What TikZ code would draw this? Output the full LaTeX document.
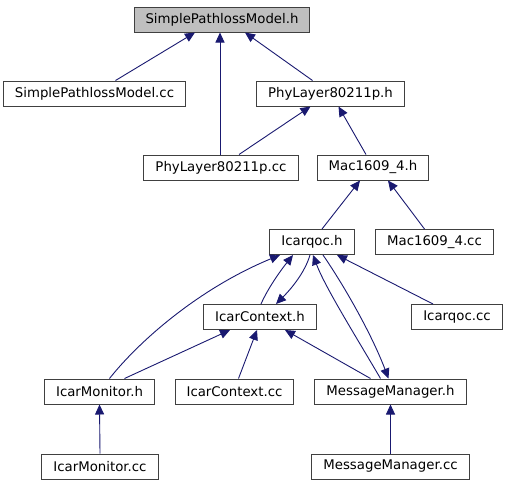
\documentclass[tikz,border=0pt]{standalone}
\usepackage{fontspec}
\setmainfont{DejaVu Sans}
\usepackage{tikz}
\usetikzlibrary{arrows.meta, positioning}
\definecolor{edgeblue}{HTML}{191970}
\definecolor{rootgray}{HTML}{BFBFBF}

\begin{document}
\begin{tikzpicture}[x=1pt, y=-1pt,
    box/.style={draw=black!75, fill=white, line width=1pt, minimum height=25pt,
        inner xsep=11.5pt, inner ysep=0pt, font=\fontsize{13.3}{16}\selectfont},
    rootbox/.style={box, fill=rootgray},
    dep/.style={edgeblue, line width=0.9pt, -{Triangle[length=10pt, width=9pt]}}]
        \useasboundingbox (0, 0) rectangle (506, 485);

        % Files
        \node[rootbox] (spmh) at (222, 19.5) {SimplePathlossModel.h};
        \node[box] (spmcc) at (94.5, 93.5) {SimplePathlossModel.cc};
        \node[box] (phyh) at (330.5, 93.5) {PhyLayer80211p.h};
        \node[box] (phycc) at (221, 167.5) {PhyLayer80211p.cc};
        \node[box] (mach) at (373, 167.5) {Mac1609\_4.h};
        \node[box] (qoch) at (312, 242) {Icarqoc.h};
        \node[box] (maccc) at (434.5, 242) {Mac1609\_4.cc};
        \node[box] (ctxh) at (260, 317) {IcarContext.h};
        \node[box] (qoccc) at (457, 317) {Icarqoc.cc};
        \node[box] (monh) at (99.5, 391.5) {IcarMonitor.h};
        \node[box] (ctxcc) at (234.5, 391.5) {IcarContext.cc};
        \node[box] (msgh) at (390.5, 391.5) {MessageManager.h};
        \node[box] (moncc) at (100, 466.5) {IcarMonitor.cc};
        \node[box] (msgcc) at (390.5, 466.5) {MessageManager.cc};

        % Includes of SimplePathlossModel.h
        \draw[dep] ([xshift=21pt]spmcc.north) -- ([xshift=-27pt]spmh.south);
        \draw[dep] ([xshift=-1pt]phycc.north) -- ([xshift=-2pt]spmh.south);
        \draw[dep] ([xshift=-18pt]phyh.north) -- ([xshift=23pt]spmh.south);

        % Includes of PhyLayer80211p.h and Mac1609_4.h
        \draw[dep] ([xshift=18pt]phycc.north) -- ([xshift=-20pt]phyh.south);
        \draw[dep] ([xshift=-7pt]mach.north) -- ([xshift=8pt]phyh.south);
        \draw[dep] ([xshift=10pt]qoch.north) -- ([xshift=-13pt]mach.south);
        \draw[dep] ([xshift=-10pt]maccc.north) -- ([xshift=15pt]mach.south);

        % Includes of Icarqoc.h
        \draw[dep] ([xshift=1pt]ctxh.north) .. controls (268, 288) and (281, 270) .. ([xshift=-19pt]qoch.south);
        \draw[dep] ([xshift=-2pt]qoch.south) .. controls (305, 272) and (292, 288) .. ([xshift=16pt]ctxh.north);
        \draw[dep] ([xshift=10pt]monh.north) .. controls (140, 340) and (200, 288) .. ([xshift=-32pt]qoch.south);
        \draw[dep] ([xshift=-10pt]msgh.north) .. controls (355, 335) and (325, 287) .. ([xshift=1pt]qoch.south);
        \draw[dep] ([xshift=11pt]qoch.south) .. controls (345, 287) and (372, 335) .. ([xshift=-2pt]msgh.north);
        \draw[dep] ([xshift=-24pt]qoccc.north) -- ([xshift=25pt]qoch.south);

        % Includes of IcarContext.h
        \draw[dep] ([xshift=25pt]monh.north) -- ([xshift=-30pt]ctxh.south);
        \draw[dep] ([xshift=4pt]ctxcc.north) -- ([xshift=-3pt]ctxh.south);
        \draw[dep] ([xshift=-20pt]msgh.north) -- ([xshift=25pt]ctxh.south);

        % Includes of the leaves
        \draw[dep] (moncc.north) -- (monh.south);
        \draw[dep] (msgcc.north) -- (msgh.south);
\end{tikzpicture}
\end{document}
